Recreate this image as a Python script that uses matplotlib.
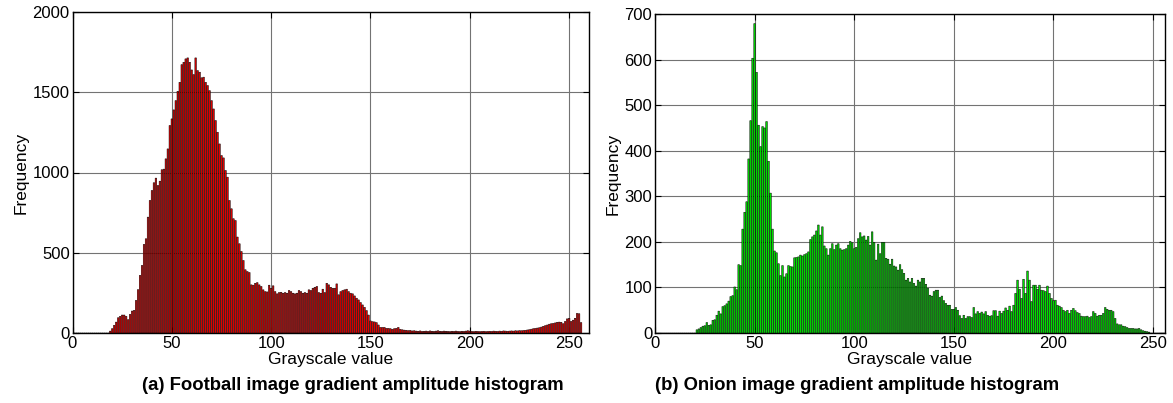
import numpy as np
import matplotlib
matplotlib.use("Agg")
import matplotlib.pyplot as plt

plt.rcParams['font.family'] = ['Liberation Sans', 'DejaVu Sans']

# ---------------- data ----------------
football_levels = np.arange(1, 257)
football_start = 19
football_nonzero = [
    12, 27, 48, 68, 95, 104, 112, 112, 104, 83, 116, 137, 141, 203, 270, 359, 421, 552, 587, 722,   # 19-38
    826, 888, 936, 965, 919, 946, 1017, 1021, 1085, 1147, 1293, 1334, 1390, 1448, 1506, 1562, 1672, 1687, 1708, 1714,  # 39-58
    1687, 1639, 1610, 1714, 1635, 1625, 1590, 1594, 1562, 1542, 1510, 1448, 1396, 1324, 1251, 1178, 1106, 1091, 1013, 971,  # 59-78
    826, 774, 712, 701, 598, 556, 508, 452, 394, 383, 377, 300, 298, 310, 314, 300, 290, 269, 258, 256,  # 79-98
    298, 279, 294, 258, 244, 252, 254, 248, 252, 248, 265, 258, 248, 244, 248, 265, 258, 248, 252, 248,  # 99-118
    269, 265, 279, 285, 290, 252, 248, 273, 252, 310, 300, 285, 279, 279, 306, 238, 258, 265, 269, 273,  # 119-138
    258, 248, 244, 231, 217, 206, 190, 175, 160, 140, 112, 75, 71, 69, 65, 50, 35, 35, 35, 29,  # 139-158
    29, 27, 23, 27, 29, 35, 23, 20, 18, 17, 15, 16, 13, 14, 12, 11, 13, 10, 11, 12,  # 159-178
    10, 13, 11, 10, 12, 14, 11, 10, 12, 11, 10, 9, 11, 10, 12, 10, 9, 11, 10, 12,  # 179-198
    14, 12, 10, 9, 11, 10, 9, 10, 11, 9, 10, 11, 10, 12, 11, 10, 12, 11, 13, 12,  # 199-218
    11, 12, 13, 12, 14, 13, 15, 14, 16, 17, 19, 21, 24, 27, 29, 31, 33, 37, 42, 46,  # 219-238
    50, 55, 58, 60, 63, 67, 68, 67, 58, 72, 88, 92, 72, 80, 92, 122, 120, 65,  # 239-256
]
football_counts = np.zeros(256)
football_counts[football_start - 1:football_start - 1 + len(football_nonzero)] = football_nonzero

onion_levels = np.arange(1, 257)
onion_start = 21
onion_nonzero = [
    7, 9, 12, 15, 16, 23, 17, 18, 28, 29, 39, 48, 42, 58, 60, 64, 70, 80, 82, 101,  # 21-40
    95, 150, 148, 228, 265, 288, 382, 466, 603, 679, 572, 456, 409, 453, 450, 464, 377, 307, 228, 180,  # 41-60
    176, 152, 126, 148, 123, 130, 148, 146, 145, 165, 166, 167, 171, 169, 172, 174, 178, 205, 211, 215,  # 61-80
    224, 237, 215, 233, 191, 185, 171, 185, 196, 183, 193, 196, 185, 182, 183, 185, 193, 201, 198, 185,  # 81-100
    188, 207, 220, 211, 213, 204, 212, 193, 222, 199, 160, 195, 174, 199, 199, 164, 162, 151, 162, 147,  # 101-120
    145, 138, 150, 139, 131, 116, 120, 112, 120, 109, 103, 116, 112, 120, 120, 107, 98, 83, 81, 91,  # 121-140
    94, 94, 78, 81, 71, 65, 61, 61, 52, 52, 56, 50, 38, 32, 39, 32, 36, 36, 34, 56,  # 141-160
    42, 47, 43, 46, 42, 47, 39, 37, 38, 49, 49, 37, 48, 43, 48, 55, 50, 59, 47, 61,  # 161-180
    87, 116, 96, 76, 118, 87, 136, 116, 69, 105, 105, 96, 105, 94, 93, 91, 103, 87, 76, 71,  # 181-200
    72, 61, 59, 56, 50, 47, 50, 43, 50, 54, 49, 45, 43, 37, 36, 36, 37, 34, 36, 47,  # 201-220
    43, 37, 39, 39, 43, 56, 52, 50, 50, 47, 32, 20, 18, 18, 15, 14, 12, 10, 10, 10,  # 221-240
    9, 9, 10, 7, 5, 4, 3, 2,  # 241-248
]
onion_counts = np.zeros(256)
onion_counts[onion_start - 1:onion_start - 1 + len(onion_nonzero)] = onion_nonzero

football_yticks = [0, 500, 1000, 1500, 2000]
onion_yticks = [0, 100, 200, 300, 400, 500, 600, 700]
x_ticks = [0, 50, 100, 150, 200, 250]
caption_a = "(a) Football image gradient amplitude histogram"
caption_b = "(b) Onion image gradient amplitude histogram"

# ---------------- figure ----------------
W, H = 1173, 403
fig = plt.figure(figsize=(W / 100, H / 100), dpi=100)

def px_axes(x0, y0, x1, y1):
    return fig.add_axes([x0 / W, 1 - y1 / H, (x1 - x0) / W, (y1 - y0) / H])

ax1 = px_axes(72.5, 12, 589, 333)
ax2 = px_axes(655, 14, 1165, 333)

def style(ax, xmax, ymax, yticks):
    ax.set_xlim(0, xmax)
    ax.set_ylim(0, ymax)
    ax.set_xticks(x_ticks)
    ax.set_yticks(yticks)
    ax.grid(True, color='0.45', linewidth=0.8, linestyle='-')
    ax.set_axisbelow(True)
    ax.tick_params(direction='in', length=4, width=0.8, top=True, right=True,
                   labelsize=12, pad=2, colors='black')
    for s in ax.spines.values():
        s.set_linewidth(1.0)
        s.set_color('black')
    ax.set_xlabel("Grayscale value", fontsize=12.5, labelpad=1)
    ax.set_ylabel("Frequency", fontsize=12.5, labelpad=3)

bars1 = ax1.bar(football_levels, football_counts, width=0.8, color='#e00000',
                edgecolor='black', linewidth=0.35, zorder=3)
for b in bars1:
    b.set_snap(False)
style(ax1, 260, 2000, football_yticks)

bars2 = ax2.bar(onion_levels, onion_counts, width=0.8, color='#00dd00',
                edgecolor='black', linewidth=0.35, zorder=3)
for b in bars2:
    b.set_snap(False)
style(ax2, 256, 700, onion_yticks)

fig.text(353 / W, 1 - 386 / H, caption_a, ha='center', va='center',
         fontsize=13.3, fontweight='bold')
fig.text(857 / W, 1 - 386 / H, caption_b, ha='center', va='center',
         fontsize=13.3, fontweight='bold')

fig.savefig("out.png", dpi=100)
